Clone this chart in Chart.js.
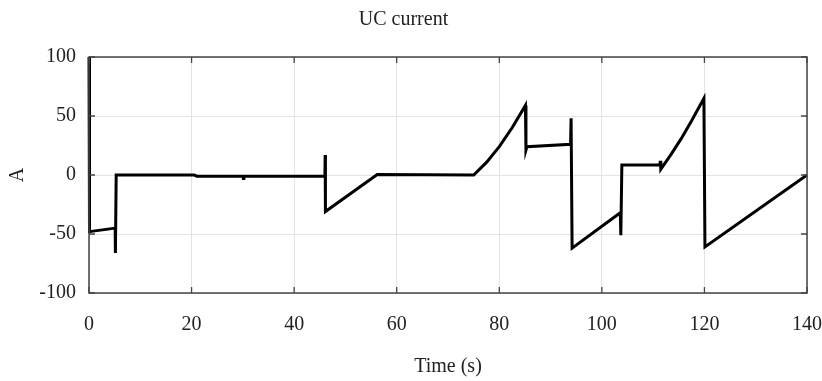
<!DOCTYPE html>
<html>
<head>
<meta charset="utf-8">
<script src="https://cdn.jsdelivr.net/npm/chart.js@4/dist/chart.umd.min.js"></script>
<style>
  html, body { margin: 0; padding: 0; background: #ffffff; }
  #wrap { width: 822px; height: 381px; }
</style>
</head>
<body>
<div id="wrap"><canvas id="c" width="822" height="381"></canvas></div>
<script>
// ---- data ----
const chartTitle = "UC current";
const xAxisTitle = "Time (s)";
const yAxisTitle = "A";
const xTickValues = [0, 20, 40, 60, 80, 100, 120, 140];
const xTickLabels = ["0", "20", "40", "60", "80", "100", "120", "140"];
const yTickValues = [-100, -50, 0, 50, 100];
const yTickLabels = ["-100", "-50", "0", "50", "100"];

const timeSec = [
  0, 0.1, 5.1, 5.15, 5.3, 20.5, 21, 30, 30.1, 30.2, 46,
  46.05, 46.1, 56.2, 75, 77.5, 80, 82.5, 85.1, 85.2, 85.4, 93.9, 94.0, 94.2,
  103.6, 103.7, 103.9, 111.3, 111.4, 111.5, 113.5, 115.5, 117.5, 119.9, 120.1, 140
];
const currentA = [
  100, -48, -45, -66, 0, 0, -1, -1, -3, -1, -1,
  17, -31, 0.5, 0, 10.7, 24, 40, 59, 21, 24, 26, 48, -62,
  -32, -51, 8.5, 8.5, 12, 5, 17.5, 31, 46, 65, -61, 0
];

const points = timeSec.map((t, i) => ({ x: t, y: currentA[i] }));

const FONT = "'Liberation Serif', 'Times New Roman', serif";

const frameAndTicks = {
  id: 'frameAndTicks',
  afterDatasetsDraw(chart) {
    const { ctx, chartArea: a, scales } = chart;
    const len = 6;
    ctx.save();
    ctx.strokeStyle = '#444444';
    ctx.lineWidth = 1.3;
    ctx.beginPath();
    xTickValues.forEach(v => {
      const px = scales.x.getPixelForValue(v);
      ctx.moveTo(px, a.bottom); ctx.lineTo(px, a.bottom - len);
      ctx.moveTo(px, a.top); ctx.lineTo(px, a.top + len);
    });
    yTickValues.forEach(v => {
      const py = scales.y.getPixelForValue(v);
      ctx.moveTo(a.left, py); ctx.lineTo(a.left + len, py);
      ctx.moveTo(a.right, py); ctx.lineTo(a.right - len, py);
    });
    ctx.stroke();
    ctx.lineWidth = 1.5;
    ctx.strokeRect(a.left, a.top, a.right - a.left, a.bottom - a.top);
    ctx.restore();
  }
};

new Chart(document.getElementById('c'), {
  type: 'line',
  data: {
    datasets: [{
      data: points,
      borderColor: '#000000',
      borderWidth: 3,
      pointRadius: 0,
      tension: 0,
      fill: false,
      clip: false
    }]
  },
  options: {
    responsive: false,
    animation: false,
    devicePixelRatio: 1,
    layout: { padding: { left: 0, right: 15, top: 0, bottom: 0 } },
    plugins: {
      legend: { display: false },
      tooltip: { enabled: false },
      title: {
        display: true,
        text: chartTitle,
        color: '#222222',
        font: { family: FONT, size: 20, weight: 'normal', lineHeight: 1.2 },
        padding: { top: 8, bottom: 25 }
      }
    },
    scales: {
      x: {
        type: 'linear',
        min: 0, max: 140,
        afterBuildTicks: s => { s.ticks = xTickValues.map(v => ({ value: v })); },
        afterFit: s => { s.height = 88; s.paddingLeft = 0; s.paddingRight = 0; },
        border: { display: false },
        grid: { color: '#e3e3e3', lineWidth: 1, drawTicks: false },
        ticks: {
          color: '#222222',
          padding: 20,
          maxRotation: 0,
          font: { family: FONT, size: 20, lineHeight: 1.2 },
          callback: v => xTickLabels[xTickValues.indexOf(v)]
        },
        title: {
          display: true,
          text: xAxisTitle,
          color: '#222222',
          font: { family: FONT, size: 20, lineHeight: 1.2 },
          padding: { top: 0, bottom: 2 }
        }
      },
      y: {
        type: 'linear',
        min: -100, max: 100,
        afterBuildTicks: s => { s.ticks = yTickValues.map(v => ({ value: v })); },
        afterFit: s => { s.width = 89; s.paddingTop = 0; s.paddingBottom = 0; },
        border: { display: false },
        grid: { color: '#e3e3e3', lineWidth: 1, drawTicks: false },
        ticks: {
          color: '#222222',
          padding: 13,
          font: { family: FONT, size: 20, lineHeight: 1.2 },
          callback: v => yTickLabels[yTickValues.indexOf(v)]
        },
        title: {
          display: true,
          text: yAxisTitle,
          color: '#222222',
          font: { family: FONT, size: 20, lineHeight: 1.2 },
          padding: { top: 6, bottom: 0 }
        }
      }
    }
  },
  plugins: [frameAndTicks]
});
</script>
</body>
</html>
